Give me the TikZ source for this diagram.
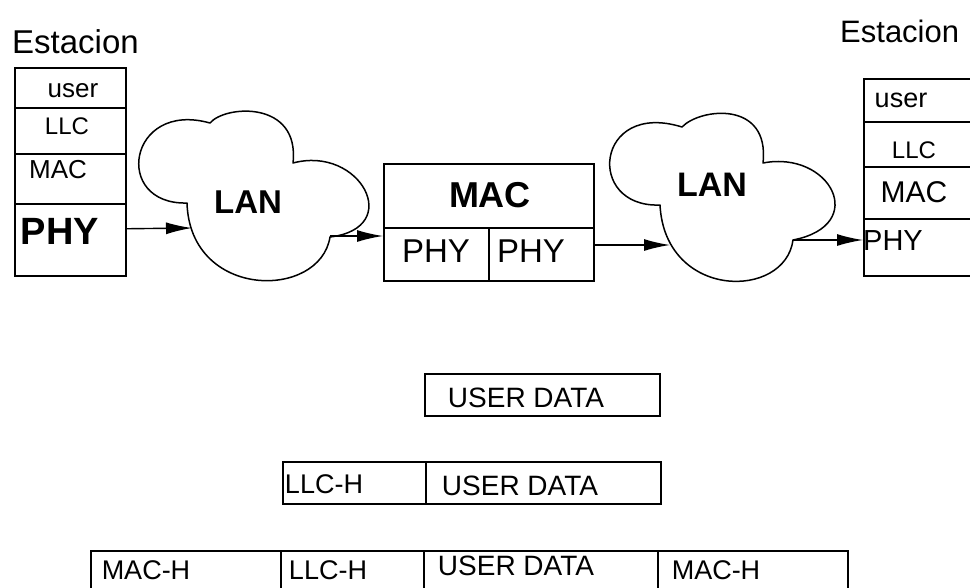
\documentclass[tikz,border=0pt]{standalone}
\usepackage{fontspec}
\setmainfont{Liberation Sans}
\usetikzlibrary{arrows.meta}
\newcommand\fsz[1]{\fontsize{#1pt}{#1pt}\selectfont}
\tikzset{
  cell/.style={draw, line width=1.5pt, inner sep=0pt, anchor=north west},
  lbl/.style={inner sep=0pt, anchor=center},
  cloudline/.style={line width=1.5pt, line join=round},
  arr/.style={line width=1.4pt, -{Latex[length=26pt,width=12pt]}},
}
\begin{document}
\begin{tikzpicture}[x=1pt,y=-1pt]
\useasboundingbox (0,0) rectangle (970,587);
\clip (0,0) rectangle (970,587);

% ---------- left station ----------
\node[anchor=base west, inner sep=0pt, font=\fsz{33}] (est1) at (12,53) {Estacion};
\node[cell, minimum width=111pt, minimum height=40pt] (s1user) at (14,67) {};
\node[cell, minimum width=111pt, minimum height=46pt] (s1llc) at (14,107) {};
\node[cell, minimum width=111pt, minimum height=50pt] (s1mac) at (14,153) {};
\node[cell, minimum width=111pt, minimum height=72pt] (s1phy) at (14,203) {};
\node[lbl, font=\fsz{26}] (t1user) at (73,91) {user};
\node[lbl, font=\fsz{24}] (t1llc) at (67,126) {LLC};
\node[lbl, font=\fsz{26}] (t1mac) at (58,170) {MAC};
\node[lbl, font=\fsz{38}\bfseries] (t1phy) at (60,231) {PHY};

% ---------- cloud 1 ----------
\draw[cloudline] (187,203) .. controls (112,205) and (128,100) .. (210,123)
  .. controls (225,105) and (300,100) .. (293,163)
  .. controls (360,145) and (405,228) .. (330,237)
  .. controls (320,300) and (190,300) .. (187,203) -- cycle;
\node[lbl, font=\fsz{33}\bfseries] (lan1) at (248,202) {LAN};
\coordinate (lan1in) at (192,228);
\coordinate (lan1out) at (330,236);

% ---------- bridge ----------
\node[cell, minimum width=210pt, minimum height=117pt] (br) at (383,163) {};
\node[cell, minimum width=210pt, minimum height=64pt] (brmac) at (383,163) {};
\node[cell, minimum width=105pt, minimum height=53pt] (brphy1) at (383,227) {};
\node[cell, minimum width=105pt, minimum height=53pt] (brphy2) at (488,227) {};
\node[lbl, font=\fsz{36}\bfseries] (tbrmac) at (490,195) {MAC};
\node[lbl, font=\fsz{33}] (tbrphy1) at (436,251) {PHY};
\node[lbl, font=\fsz{33}] (tbrphy2) at (531,251) {PHY};

% ---------- cloud 2 ----------
\draw[cloudline] (660,205) .. controls (585,208) and (595,100) .. (682,127)
  .. controls (700,108) and (770,100) .. (763,163)
  .. controls (830,150) and (870,225) .. (793,240)
  .. controls (785,300) and (665,300) .. (660,205) -- cycle;
\node[lbl, font=\fsz{34}\bfseries] (lan2) at (712,185) {LAN};
\coordinate (lan2in) at (670,245);
\coordinate (lan2out) at (793,240);

% ---------- right station ----------
\node[anchor=base west, inner sep=0pt, font=\fsz{31}] (est2) at (840,42) {Estacion};
\node[cell, minimum width=150pt, minimum height=43pt] (s2user) at (863,78) {};
\node[cell, minimum width=150pt, minimum height=45pt] (s2llc) at (863,121) {};
\node[cell, minimum width=150pt, minimum height=52pt] (s2mac) at (863,166) {};
\node[cell, minimum width=150pt, minimum height=57pt] (s2phy) at (863,218) {};
\node[lbl, font=\fsz{27}] (t2user) at (901,100) {user};
\node[lbl, font=\fsz{24}] (t2llc) at (914,150) {LLC};
\node[lbl, font=\fsz{30}] (t2mac) at (914,192) {MAC};
\node[lbl, font=\fsz{29}] (t2phy) at (893,241) {PHY};

% ---------- arrows ----------
\draw[arr] ([yshift=11pt]s1phy.east) -- (lan1in);
\draw[arr] (lan1out) -- (lan1out -| br.west);
\draw[arr] (lan2in -| br.east) -- (lan2in);
\draw[arr] (lan2out) -- (lan2out -| s2phy.west);

% ---------- frames ----------
\node[cell, minimum width=235pt, minimum height=42pt] (f1ud) at (424,373) {};
\node[lbl, font=\fsz{28}] (tf1ud) at (526,398) {USER DATA};

\node[cell, minimum width=143pt, minimum height=42pt] (f2llc) at (282,461) {};
\node[cell, minimum width=235pt, minimum height=42pt] (f2ud) at (425,461) {};
\node[lbl, font=\fsz{27}] (tf2llc) at (324,484) {LLC-H};
\node[lbl, font=\fsz{28}] (tf2ud) at (520,486) {USER DATA};

\node[cell, minimum width=190pt, minimum height=60pt] (f3mach) at (90,550) {};
\node[cell, minimum width=143pt, minimum height=60pt] (f3llc) at (280,550) {};
\node[cell, minimum width=234pt, minimum height=60pt] (f3ud) at (423,550) {};
\node[cell, minimum width=190pt, minimum height=60pt] (f3macf) at (657,550) {};
\node[lbl, font=\fsz{27}] (tf3mach) at (146,570) {MAC-H};
\node[lbl, font=\fsz{27}] (tf3llc) at (328,570) {LLC-H};
\node[lbl, font=\fsz{28}] (tf3ud) at (516,566) {USER DATA};
\node[lbl, font=\fsz{27}] (tf3macf) at (716,570) {MAC-H};
\end{tikzpicture}
\end{document}
